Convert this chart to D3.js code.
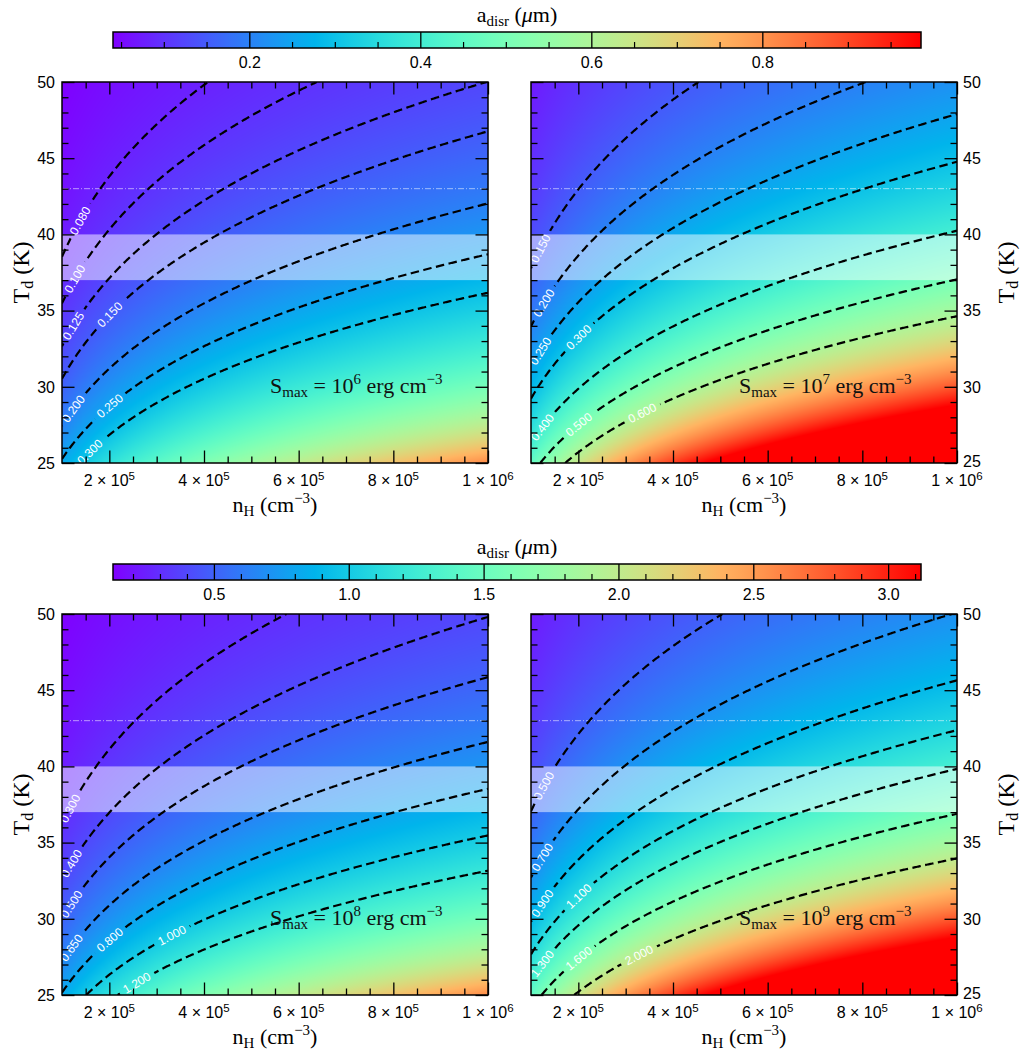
<!DOCTYPE html>
<html>
<head>
<meta charset="utf-8">
<script src="https://cdn.jsdelivr.net/npm/d3@7"></script>
<style>
  body { margin: 0; background: #ffffff; }
  svg { display: block; }
</style>
</head>
<body>
<svg id="fig" width="1021" height="1051"></svg>
<script>
// ---------------------------------------------------------------------------
// Grid nodes of the disruption-size maps
// ---------------------------------------------------------------------------
const nHNodes = [1.0e5, 1.5e5, 2.0e5, 3.0e5, 4.0e5, 6.0e5, 8.0e5, 1.0e6];   // cm^-3
const tdNodes = [25, 30, 35, 40, 45, 50];                                   // K

// a_disr (um); rows follow tdNodes, columns follow nHNodes
const adisrS6 = [
  [0.2572, 0.3150, 0.3637, 0.4455, 0.5144, 0.6300, 0.7275, 0.8134],
  [0.1572, 0.1925, 0.2223, 0.2723, 0.3144, 0.3851, 0.4446, 0.4971],
  [0.1037, 0.1270, 0.1466, 0.1796, 0.2074, 0.2540, 0.2933, 0.3279],
  [0.07230, 0.08855, 0.1022, 0.1252, 0.1446, 0.1771, 0.2045, 0.2286],
  [0.05260, 0.06443, 0.07439, 0.09111, 0.1052, 0.1289, 0.1488, 0.1664],
  [0.03958, 0.04848, 0.05598, 0.06856, 0.07916, 0.09695, 0.1120, 0.1252]
];
const adisrS7 = [
  [0.4574, 0.5602, 0.6468, 0.7922, 0.9148, 1.1204, 1.2937, 1.4464],
  [0.2795, 0.3424, 0.3954, 0.4842, 0.5591, 0.6848, 0.7907, 0.8840],
  [0.1844, 0.2258, 0.2607, 0.3193, 0.3688, 0.4516, 0.5215, 0.5831],
  [0.1286, 0.1575, 0.1818, 0.2227, 0.2571, 0.3149, 0.3636, 0.4066],
  [0.09355, 0.1146, 0.1323, 0.1620, 0.1871, 0.2291, 0.2646, 0.2958],
  [0.07039, 0.08621, 0.09954, 0.1219, 0.1408, 0.1724, 0.1991, 0.2226]
];
const adisrS8 = [
  [0.8134, 0.9962, 1.1503, 1.4088, 1.6267, 1.9923, 2.3006, 2.5721],
  [0.4971, 0.6089, 0.7030, 0.8610, 0.9943, 1.2177, 1.4061, 1.5721],
  [0.3279, 0.4016, 0.4637, 0.5679, 0.6557, 0.8031, 0.9274, 1.0368],
  [0.2286, 0.2800, 0.3233, 0.3960, 0.4573, 0.5600, 0.6467, 0.7230],
  [0.1664, 0.2037, 0.2353, 0.2881, 0.3327, 0.4075, 0.4705, 0.5261],
  [0.1252, 0.1533, 0.1770, 0.2168, 0.2503, 0.3066, 0.3540, 0.3958]
];
const adisrS9 = [
  [1.4464, 1.7715, 2.0455, 2.5052, 2.8928, 3.5430, 4.0911, 4.5740],
  [0.8840, 1.0828, 1.2502, 1.5312, 1.7681, 2.1654, 2.5004, 2.7956],
  [0.5831, 0.7141, 0.8245, 1.0099, 1.1661, 1.4282, 1.6491, 1.8438],
  [0.4066, 0.4980, 0.5750, 0.7042, 0.8131, 0.9959, 1.1500, 1.2857],
  [0.2958, 0.3623, 0.4184, 0.5124, 0.5916, 0.7246, 0.8367, 0.9355],
  [0.2226, 0.2726, 0.3148, 0.3855, 0.4452, 0.5452, 0.6296, 0.7039]
];

// contour levels and the density at which each level carries its label
const levelsS6 = [0.080, 0.100, 0.125, 0.150, 0.200, 0.250, 0.300];
const labelNHS6 = [1.38e5, 1.27e5, 1.24e5, 2.01e5, 1.24e5, 2.01e5, 1.59e5];
const levelsS7 = [0.150, 0.200, 0.250, 0.300, 0.400, 0.500, 0.600];
const labelNHS7 = [1.20e5, 1.27e5, 1.20e5, 2.01e5, 1.24e5, 2.01e5, 3.35e5];
const levelsS8 = [0.300, 0.400, 0.500, 0.650, 0.800, 1.000, 1.200];
const labelNHS8 = [1.17e5, 1.20e5, 1.20e5, 1.20e5, 2.01e5, 3.32e5, 2.58e5];
const levelsS9 = [0.500, 0.700, 0.900, 1.100, 1.300, 1.600, 2.000];
const labelNHS9 = [1.27e5, 1.24e5, 1.24e5, 2.01e5, 1.24e5, 2.01e5, 3.28e5];

const smaxExponents = ["6", "7", "8", "9"];

// highlighted dust-temperature band and reference temperature
const tdBand = [37, 40];
const tdRef = 43;

// colour ranges of the two colour bars
const cbRangeTop = [0.040, 0.985];
const cbRangeBottom = [0.124, 3.12];

// ticks
const xMajorTicks = [2e5, 4e5, 6e5, 8e5, 1e6];
const xMinorTicks = [1.5e5, 2.5e5, 3e5, 3.5e5, 4.5e5, 5e5, 5.5e5, 6.5e5, 7e5, 7.5e5, 8.5e5, 9e5, 9.5e5];
const yMajorTicks = [25, 30, 35, 40, 45, 50];
const yMinorTicks = [26, 27, 28, 29, 31, 32, 33, 34, 36, 37, 38, 39, 41, 42, 43, 44, 46, 47, 48, 49];
const cbTopMajor = [0.2, 0.4, 0.6, 0.8];
const cbTopMajorLabels = ["0.2", "0.4", "0.6", "0.8"];
const cbTopMinor = [0.05, 0.1, 0.15, 0.25, 0.3, 0.35, 0.45, 0.5, 0.55, 0.65, 0.7, 0.75, 0.85, 0.9, 0.95];
const cbBottomMajor = [0.5, 1.0, 1.5, 2.0, 2.5, 3.0];
const cbBottomMajorLabels = ["0.5", "1.0", "1.5", "2.0", "2.5", "3.0"];
const cbBottomMinor = [0.2, 0.3, 0.4, 0.6, 0.7, 0.8, 0.9, 1.1, 1.2, 1.3, 1.4, 1.6, 1.7, 1.8, 1.9,
                       2.1, 2.2, 2.3, 2.4, 2.6, 2.7, 2.8, 2.9, 3.1];

// ---------------------------------------------------------------------------
// Layout and styles
// ---------------------------------------------------------------------------
const SANS = "'Liberation Sans', Arial, Helvetica, sans-serif";
const SERIF = "'Liberation Serif', 'Times New Roman', serif";
const colX = [[62, 488], [531, 957]];
const rowY = [[82, 463], [614, 995]];
const cbX = [113, 921];
const cbY = [32, 564];
const cbH = 16;
const MAJOR = 12.5, MINOR = 6.5;

const svg = d3.select("#fig");
const defs = svg.append("defs");

// matplotlib "rainbow" colormap
function rainbow(t) {
  t = Math.max(0, Math.min(1, t));
  const r = Math.min(1, Math.abs(2 * t - 0.5));
  const g = Math.sin(Math.PI * t);
  const b = Math.cos(Math.PI * t / 2);
  return [Math.round(r * 255), Math.round(g * 255), Math.round(b * 255)];
}

// smooth shading between grid nodes (log-log bilinear)
const lnN = nHNodes.map(Math.log);
const lnT = tdNodes.map(Math.log);
function fieldAt(grid, nH, T) {
  const lx = Math.log(nH), ly = Math.log(T);
  let i = d3.bisectRight(lnN, lx) - 1; i = Math.max(0, Math.min(lnN.length - 2, i));
  let j = d3.bisectRight(lnT, ly) - 1; j = Math.max(0, Math.min(lnT.length - 2, j));
  const u = (lx - lnN[i]) / (lnN[i + 1] - lnN[i]);
  const v = (ly - lnT[j]) / (lnT[j + 1] - lnT[j]);
  const a00 = Math.log(grid[j][i]), a10 = Math.log(grid[j][i + 1]);
  const a01 = Math.log(grid[j + 1][i]), a11 = Math.log(grid[j + 1][i + 1]);
  return Math.exp((1 - u) * (1 - v) * a00 + u * (1 - v) * a10 + (1 - u) * v * a01 + u * v * a11);
}
// T on an iso-level at a given density (value falls with T)
function solveT(grid, nH, L) {
  let lo = 25, hi = 50;
  for (let k = 0; k < 40; k++) {
    const m = (lo + hi) / 2;
    if (fieldAt(grid, nH, m) > L) lo = m; else hi = m;
  }
  return (lo + hi) / 2;
}
// density on an iso-level along a fixed T edge (value rises with nH)
function solveN(grid, T, L, a, b) {
  for (let k = 0; k < 40; k++) {
    const m = (a + b) / 2;
    if (fieldAt(grid, m, T) < L) a = m; else b = m;
  }
  return (a + b) / 2;
}
function isoline(grid, L) {
  const N = 450, runs = [];
  let run = null, prevState = null, prevN = null;
  for (let k = 0; k <= N; k++) {
    const n = 1e5 + 9e5 * k / N;
    const fTop = fieldAt(grid, n, 50), fBot = fieldAt(grid, n, 25);
    const state = L < fTop ? "top" : (L > fBot ? "bot" : "in");
    if (state === "in") {
      if (!run) {
        run = []; runs.push(run);
        if (prevState) {
          const eT = prevState === "top" ? 50 : 25;
          run.push([solveN(grid, eT, L, prevN, n), eT]);
        }
      }
      run.push([n, solveT(grid, n, L)]);
    } else if (run) {
      const eT = state === "top" ? 50 : 25;
      run.push([solveN(grid, eT, L, prevN, n), eT]);
      run = null;
    }
    prevState = state; prevN = n;
  }
  return runs;
}

// ---------------------------------------------------------------------------
// Colour bars
// ---------------------------------------------------------------------------
function colorbar(idx, range, major, majorLabels, minor) {
  const y0 = cbY[idx];
  const c = d3.scaleLinear().domain(range).range(cbX);
  const gid = "cbgrad" + idx;
  const grad = defs.append("linearGradient").attr("id", gid)
    .attr("x1", "0%").attr("x2", "100%").attr("y1", "0%").attr("y2", "0%");
  d3.range(0, 129).forEach(k => {
    const t = k / 128;
    const [r, g, b] = rainbow(t);
    grad.append("stop").attr("offset", (t * 100) + "%").attr("stop-color", `rgb(${r},${g},${b})`);
  });
  const g = svg.append("g");
  g.append("rect").attr("x", cbX[0]).attr("y", y0).attr("width", cbX[1] - cbX[0]).attr("height", cbH)
    .attr("fill", `url(#${gid})`);
  g.selectAll(".mn").data(minor).join("line")
    .attr("x1", d => c(d)).attr("x2", d => c(d))
    .attr("y1", y0 + cbH).attr("y2", y0 + cbH - 6)
    .attr("stroke", "#000").attr("stroke-width", 1.2);
  g.selectAll(".mj").data(major).join("line")
    .attr("x1", d => c(d)).attr("x2", d => c(d))
    .attr("y1", y0).attr("y2", y0 + cbH)
    .attr("stroke", "#000").attr("stroke-width", 1.3);
  g.append("rect").attr("x", cbX[0]).attr("y", y0).attr("width", cbX[1] - cbX[0]).attr("height", cbH)
    .attr("fill", "none").attr("stroke", "#000").attr("stroke-width", 1.5);
  g.selectAll(".lb").data(major).join("text")
    .attr("x", d => c(d)).attr("y", y0 + cbH + 20)
    .attr("text-anchor", "middle").attr("font-family", SANS).attr("font-size", 16)
    .text((d, i) => majorLabels[i]);
  const t = g.append("text").attr("x", 517).attr("y", y0 - 10)
    .attr("text-anchor", "middle").attr("font-family", SERIF).attr("font-size", 22);
  t.append("tspan").text("a");
  t.append("tspan").attr("font-size", 15).attr("dy", 4).text("disr");
  t.append("tspan").attr("dy", -4).text(" (");
  t.append("tspan").attr("font-style", "italic").text("μ");
  t.append("tspan").text("m)");
}
colorbar(0, cbRangeTop, cbTopMajor, cbTopMajorLabels, cbTopMinor);
colorbar(1, cbRangeBottom, cbBottomMajor, cbBottomMajorLabels, cbBottomMinor);

// ---------------------------------------------------------------------------
// Panels
// ---------------------------------------------------------------------------
const panels = [
  { grid: adisrS6, levels: levelsS6, labelAt: labelNHS6, exp: smaxExponents[0], col: 0, row: 0, range: cbRangeTop },
  { grid: adisrS7, levels: levelsS7, labelAt: labelNHS7, exp: smaxExponents[1], col: 1, row: 0, range: cbRangeTop },
  { grid: adisrS8, levels: levelsS8, labelAt: labelNHS8, exp: smaxExponents[2], col: 0, row: 1, range: cbRangeBottom },
  { grid: adisrS9, levels: levelsS9, labelAt: labelNHS9, exp: smaxExponents[3], col: 1, row: 1, range: cbRangeBottom }
];

const fmt = d3.format(".3f");

panels.forEach((p, pi) => {
  const [x0, x1] = colX[p.col];
  const [y0, y1] = rowY[p.row];
  const x = d3.scaleLinear().domain([1e5, 1e6]).range([x0, x1]);
  const y = d3.scaleLinear().domain([25, 50]).range([y1, y0]);
  const g = svg.append("g");

  // heat map
  const w = x1 - x0, h = y1 - y0;
  const canvas = document.createElement("canvas");
  canvas.width = w; canvas.height = h;
  const ctx = canvas.getContext("2d");
  const img = ctx.createImageData(w, h);
  const [vmin, vmax] = p.range;
  for (let py = 0; py < h; py++) {
    const T = y.invert(y0 + py + 0.5);
    for (let px = 0; px < w; px++) {
      const nH = x.invert(x0 + px + 0.5);
      const val = fieldAt(p.grid, nH, T);
      const [r, gg, b] = rainbow((val - vmin) / (vmax - vmin));
      const o = (py * w + px) * 4;
      img.data[o] = r; img.data[o + 1] = gg; img.data[o + 2] = b; img.data[o + 3] = 255;
    }
  }
  ctx.putImageData(img, 0, 0);
  g.append("image").attr("x", x0).attr("y", y0).attr("width", w).attr("height", h)
    .attr("preserveAspectRatio", "none").attr("href", canvas.toDataURL());

  // clip to the axes area
  const clipId = "clip" + pi;
  defs.append("clipPath").attr("id", clipId).append("rect")
    .attr("x", x0).attr("y", y0).attr("width", w).attr("height", h);

  // temperature band and reference line
  g.append("rect").attr("x", x0).attr("width", w)
    .attr("y", y(tdBand[1])).attr("height", y(tdBand[0]) - y(tdBand[1]))
    .attr("fill", "#ffffff").attr("fill-opacity", 0.5);
  g.append("line").attr("x1", x0).attr("x2", x1).attr("y1", y(tdRef)).attr("y2", y(tdRef))
    .attr("stroke", "#ffffff").attr("stroke-opacity", 0.55).attr("stroke-width", 1)
    .attr("stroke-dasharray", "6,2,1,2");

  // contours (masked where labels sit)
  const maskId = "mask" + pi;
  const mask = defs.append("mask").attr("id", maskId).attr("maskUnits", "userSpaceOnUse")
    .attr("x", 0).attr("y", 0).attr("width", 1021).attr("height", 1051);
  mask.append("rect").attr("x", 0).attr("y", 0).attr("width", 1021).attr("height", 1051).attr("fill", "#fff");
  const cg = g.append("g").attr("clip-path", `url(#${clipId})`).append("g").attr("mask", `url(#${maskId})`);
  const line = d3.line().x(d => x(d[0])).y(d => y(d[1]));
  p.levels.forEach(L => {
    isoline(p.grid, L).forEach(run => {
      cg.append("path").attr("d", line(run)).attr("fill", "none")
        .attr("stroke", "#000").attr("stroke-width", 2.2).attr("stroke-dasharray", "8.5,4.5");
    });
  });

  // inline contour labels
  const lg = g.append("g");
  p.levels.forEach((L, i) => {
    const nH = p.labelAt[i];
    const T = solveT(p.grid, nH, L);
    const d = 0.08e5;
    const xa = x(nH - d), ya = y(solveT(p.grid, nH - d, L));
    const xb = x(nH + d), yb = y(solveT(p.grid, nH + d, L));
    const ang = Math.atan2(yb - ya, xb - xa) * 180 / Math.PI;
    const cx = x(nH), cy = y(T);
    const t = lg.append("text")
      .attr("transform", `translate(${cx},${cy}) rotate(${ang})`)
      .attr("text-anchor", "middle").attr("dy", "0.35em")
      .attr("font-family", SANS).attr("font-size", 12).attr("fill", "#ffffff")
      .text(fmt(L));
    const tw = t.node().getComputedTextLength();
    mask.append("rect").attr("x", -tw / 2 - 5).attr("y", -7).attr("width", tw + 10).attr("height", 14)
      .attr("fill", "#000").attr("transform", `translate(${cx},${cy}) rotate(${ang})`);
  });

  // S_max annotation
  const st = g.append("text").attr("x", x0 + 208).attr("y", y0 + 311)
    .attr("font-family", SERIF).attr("font-size", 22).attr("fill", "#111");
  st.append("tspan").text("S");
  st.append("tspan").attr("font-size", 15).attr("dy", 4).text("max");
  st.append("tspan").attr("dy", -4).text(" = 10");
  st.append("tspan").attr("font-size", 15).attr("dy", -9).text(p.exp);
  st.append("tspan").attr("dy", 9).text(" erg cm");
  st.append("tspan").attr("font-size", 15).attr("dy", -9).text("−3");

  // ticks on all four sides, pointing inward
  const tickStyle = sel => {
    sel.select(".domain").remove();
    sel.selectAll(".tick line").attr("stroke", "#000").attr("stroke-width", 1.3);
    sel.selectAll(".tick text").remove();
  };
  const ax = g.append("g");
  [[d3.axisBottom, y1], [d3.axisTop, y0]].forEach(([fn, yy]) => {
    ax.append("g").attr("transform", `translate(0,${yy})`).call(fn(x).tickValues(xMajorTicks).tickSize(-MAJOR)).call(tickStyle);
    ax.append("g").attr("transform", `translate(0,${yy})`).call(fn(x).tickValues(xMinorTicks).tickSize(-MINOR)).call(tickStyle);
  });
  [[d3.axisLeft, x0], [d3.axisRight, x1]].forEach(([fn, xx]) => {
    ax.append("g").attr("transform", `translate(${xx},0)`).call(fn(y).tickValues(yMajorTicks).tickSize(-MAJOR)).call(tickStyle);
    ax.append("g").attr("transform", `translate(${xx},0)`).call(fn(y).tickValues(yMinorTicks).tickSize(-MINOR)).call(tickStyle);
  });
  g.append("rect").attr("x", x0).attr("y", y0).attr("width", w).attr("height", h)
    .attr("fill", "none").attr("stroke", "#000").attr("stroke-width", 1.5);

  // x tick labels  (m × 10^e)
  xMajorTicks.forEach(v => {
    const e = Math.floor(Math.log10(v) + 1e-9);
    const m = Math.round(v / Math.pow(10, e));
    const t = g.append("text").attr("x", x(v)).attr("y", y1 + 23)
      .attr("text-anchor", "middle").attr("font-family", SANS).attr("font-size", 16);
    t.append("tspan").text(`${m} × 10`);
    t.append("tspan").attr("font-size", 11.5).attr("dy", -6.5).text(String(e));
  });

  // y tick labels
  const left = p.col === 0;
  g.selectAll(".ylab").data(yMajorTicks).join("text")
    .attr("x", left ? x0 - 7 : x1 + 6).attr("y", d => y(d) - (!left && d === 25 ? 2 : 0)).attr("dy", "0.36em")
    .attr("text-anchor", left ? "end" : "start")
    .attr("font-family", SANS).attr("font-size", 16).text(d => d);

  // axis titles
  const xt = g.append("text").attr("x", (x0 + x1) / 2).attr("y", y1 + 49)
    .attr("text-anchor", "middle").attr("font-family", SERIF).attr("font-size", 22);
  xt.append("tspan").text("n");
  xt.append("tspan").attr("font-size", 15).attr("dy", 4).text("H");
  xt.append("tspan").attr("dy", -4).text(" (cm");
  xt.append("tspan").attr("font-size", 15).attr("dy", -9).text("−3");
  xt.append("tspan").attr("dy", 9).text(")");

  const ty = left ? 29 : 1014;
  const yt = g.append("text").attr("transform", `translate(${ty},${(y0 + y1) / 2}) rotate(-90)`)
    .attr("text-anchor", "middle").attr("font-family", SERIF).attr("font-size", 24);
  yt.append("tspan").text("T");
  yt.append("tspan").attr("font-size", 16).attr("dy", 4).text("d");
  yt.append("tspan").attr("dy", -4).text(" (K)");
});
</script>
</body>
</html>
